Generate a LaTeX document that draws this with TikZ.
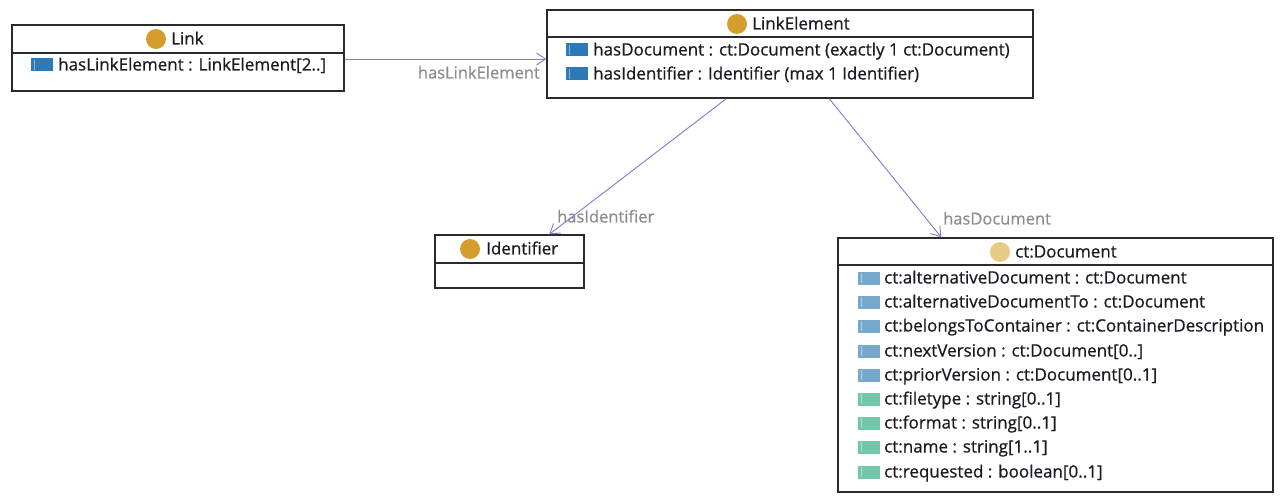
\documentclass[tikz,border=0pt]{standalone}
\usepackage{fontspec}
\setmainfont{Open Sans}
\usetikzlibrary{arrows.meta}

\definecolor{frame}{HTML}{2A2A2A}
\definecolor{txt}{HTML}{1A1A24}
\definecolor{assoccol}{HTML}{7C7CD8}
\definecolor{lblcol}{HTML}{8C8C8C}
\definecolor{classdot}{HTML}{D39E2C}
\definecolor{classdotlt}{HTML}{E8CA84}
\definecolor{objprop}{HTML}{2C7BB8}
\definecolor{objproplt}{HTML}{76A8CC}
\definecolor{dataprop}{HTML}{72C7A8}

\tikzset{
  x=1pt, y=-1pt,
  classbox/.style={draw=frame, line width=1.4pt, fill=white, inner sep=0pt},
  sepline/.style={draw=frame, line width=1.2pt},
  title/.style={anchor=west, inner sep=0pt, text height=11pt, text depth=0pt,
                font=\fontsize{17}{20}\selectfont\addfontfeatures{FakeBold=0.6}, text=txt},
  prop/.style={anchor=west, inner sep=0pt, text height=11pt, text depth=0pt,
               font=\fontsize{17}{20}\selectfont\addfontfeatures{FakeBold=0.6}, text=txt},
  assoc/.style={draw=assoccol, line width=0.9pt,
                -{Straight Barb[length=9pt, width=12pt, line width=0.9pt]}},
  assoclbl/.style={inner sep=0pt, text height=11pt, text depth=0pt,
                   font=\fontsize{16.5}{20}\selectfont\addfontfeatures{FakeBold=0.4}, text=lblcol},
}

% class icon: filled circle
\newcommand{\classicon}[3]{\fill[#3] (#1,#2) circle (10pt);}
% property icon: small bar with a light strip on its left
\newcommand{\propicon}[3]{%
  \fill[#3] (#1,#2-6.5) rectangle (#1+22,#2+6.5);
  \draw[white!45!#3, line width=0.7pt] (#1+3,#2-5) -- (#1+3,#2+5);}

\begin{document}
\begin{tikzpicture}
\useasboundingbox[fill=white] (0,0) rectangle (1280,497);

% ---- Link ----
\node[classbox, minimum width=332pt, minimum height=66pt] (link) at (178,58) {};
\draw[sepline] (12,53) -- (344,53);
\classicon{156}{39}{classdot}
\node[title] (linkT) at (171,39) {Link};
\propicon{31}{65}{objprop}
\node[prop] (linkP1) at (58,65) {hasLinkElement : LinkElement[2..]};

% ---- LinkElement ----
\node[classbox, minimum width=486pt, minimum height=88pt] (linkel) at (790,54) {};
\draw[sepline] (547,37) -- (1033,37);
\classicon{737}{24}{classdot}
\node[title] (linkelT) at (752,24) {LinkElement};
\propicon{566}{50}{objprop}
\node[prop] (linkelP1) at (593,50) {hasDocument : ct:Document (exactly 1 ct:Document)};
\propicon{566}{74}{objprop}
\node[prop] (linkelP2) at (593,74) {hasIdentifier : Identifier (max 1 Identifier)};

% ---- Identifier ----
\node[classbox, minimum width=149pt, minimum height=53pt] (ident) at (509.5,261.5) {};
\draw[sepline] (435,263) -- (584,263);
\classicon{470}{249}{classdot}
\node[title] (identT) at (486,249) {Identifier};

% ---- ct:Document ----
\node[classbox, minimum width=435pt, minimum height=254pt] (doc) at (1055.5,365) {};
\draw[sepline] (838,265) -- (1273,265);
\classicon{1000}{252}{classdotlt}
\node[title] (docT) at (1015,252) {ct:Document};
\propicon{858}{278}{objproplt}
\node[prop] (docP1) at (884,278) {ct:alternativeDocument : ct:Document};
\propicon{858}{302}{objproplt}
\node[prop] (docP2) at (884,302) {ct:alternativeDocumentTo : ct:Document};
\propicon{858}{326}{objproplt}
\node[prop] (docP3) at (884,326) {ct:belongsToContainer : ct:ContainerDescription};
\propicon{858}{351}{objproplt}
\node[prop] (docP4) at (884,351) {ct:nextVersion : ct:Document[0..]};
\propicon{858}{375}{objproplt}
\node[prop] (docP5) at (884,375) {ct:priorVersion : ct:Document[0..1]};
\propicon{858}{399}{dataprop}
\node[prop] (docP6) at (884,399) {ct:filetype : string[0..1]};
\propicon{858}{423}{dataprop}
\node[prop] (docP7) at (884,423) {ct:format : string[0..1]};
\propicon{858}{447}{dataprop}
\node[prop] (docP8) at (884,447) {ct:name : string[1..1]};
\propicon{858}{472}{dataprop}
\node[prop] (docP9) at (884,472) {ct:requested : boolean[0..1]};

% ---- associations ----
\draw[assoc] ([yshift=-1pt]link.east) -- ([yshift=-1pt]link.east -| linkel.west);
\node[assoclbl, anchor=east] (lblLE) at (540,73) {hasLinkElement};

\draw[assoc] ([xshift=180pt]linkel.south west) -- ([xshift=115pt]ident.north west);
\node[assoclbl, anchor=west] (lblId) at (557,217) {hasIdentifier};

\draw[assoc] ([xshift=283pt]linkel.south west) -- ([xshift=104pt]doc.north west);
\node[assoclbl, anchor=west] (lblDoc) at (943,219) {hasDocument};

\end{tikzpicture}
\end{document}
